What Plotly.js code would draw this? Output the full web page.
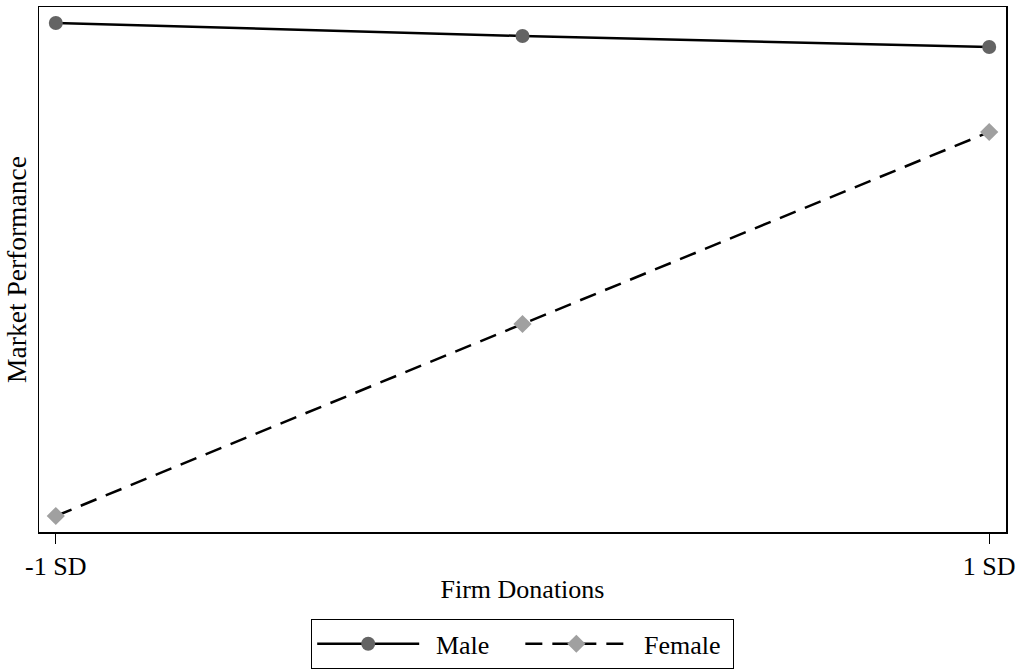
<!DOCTYPE html>
<html>
<head>
<meta charset="utf-8">
<script src="https://cdn.plot.ly/plotly-3.0.1.min.js"></script>
<style>html,body{margin:0;padding:0;background:#fff;}#chart{width:1017px;height:670px;}</style>
</head>
<body>
<div id="chart"></div>
<script>
var xValues = [-1, 0, 1];
var tickValues = [-1, 1];
var tickLabels = ['-1 SD', '1 SD'];
var seriesNames = ['Male', 'Female'];
var maleValues = [5.09, 4.96, 4.85];
var femaleValues = [0.16, 2.08, 4.00];

var font = 'Liberation Serif, Times New Roman, serif';
var NB = '\u00a0', TH = '\u2009';

var traces = [
  {
    x: xValues, y: maleValues, name: NB + TH + seriesNames[0] + NB + NB + NB + NB, type: 'scatter', mode: 'lines+markers',
    line: {color: '#000', width: 2.5, dash: 'solid'},
    marker: {symbol: 'circle', size: 14, color: '#646464'}
  },
  {
    x: xValues, y: femaleValues, name: NB + TH + seriesNames[1] + NB, type: 'scatter', mode: 'lines+markers',
    line: {color: '#000', width: 2.5, dash: '17px,10px'},
    marker: {symbol: 'diamond', size: 14, color: '#a0a0a0'}
  }
];

var layout = {
  width: 1017, height: 670,
  margin: {l: 39, r: 11, t: 7, b: 138, autoexpand: false},
  paper_bgcolor: '#fff', plot_bgcolor: '#fff',
  font: {family: font, size: 26, color: '#000'},
  showlegend: true,
  legend: {
    orientation: 'h', x: 0.5, xanchor: 'center', y: -0.166, yanchor: 'top',
    bordercolor: '#000', borderwidth: 1.2, itemwidth: 102,
    font: {family: font, size: 26, color: '#000'},
    traceorder: 'normal'
  },
  xaxis: {
    range: [-1.036, 1.036],
    tickvals: tickValues, ticktext: tickLabels,
    ticks: 'outside', ticklen: 10, tickwidth: 1.2, tickcolor: '#000',
    showline: true, mirror: true, linecolor: '#000', linewidth: 1.5,
    showgrid: false, zeroline: false, automargin: false,
    tickfont: {family: font, size: 26, color: '#000'},
    title: {text: 'Firm Donations', font: {family: font, size: 26, color: '#000'}, standoff: 0}
  },
  yaxis: {
    range: [0, 5.25],
    showticklabels: false, ticks: '',
    showline: true, mirror: true, linecolor: '#000', linewidth: 1.5,
    showgrid: false, zeroline: false, automargin: false,
    title: {text: 'Market Performance', font: {family: font, size: 27.5, color: '#000'}, standoff: 3}
  }
};

Plotly.newPlot('chart', traces, layout, {displayModeBar: false, staticPlot: true});
</script>
</body>
</html>
